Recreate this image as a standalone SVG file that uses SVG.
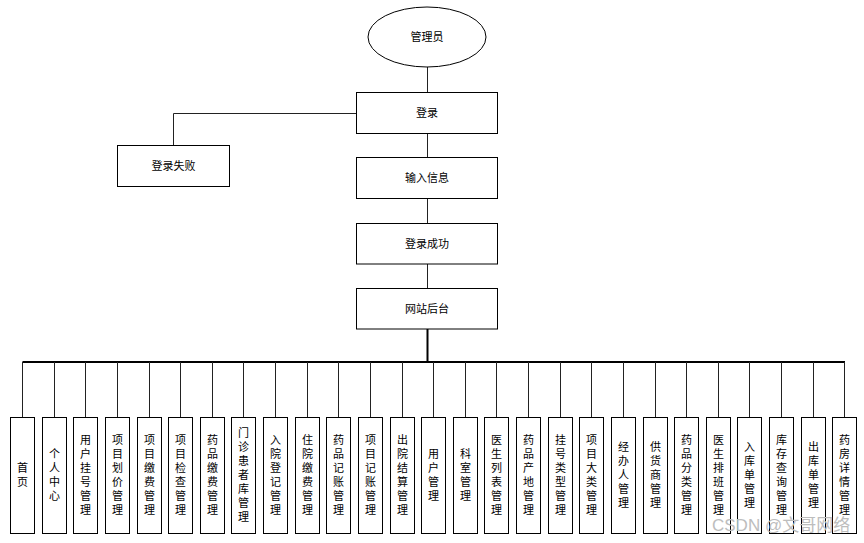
<svg xmlns="http://www.w3.org/2000/svg" width="864" height="543" viewBox="0 0 864 543">
<style>
.n{fill:#fff;stroke:#000;stroke-width:1}
.t{font-family:"Liberation Sans","Noto Sans CJK SC",sans-serif;font-size:11px;fill:#000;text-anchor:middle;dominant-baseline:central}
.c{stroke:#222;stroke-width:1;fill:none}
.b{stroke:#000;stroke-width:2;fill:none}
.w{font-family:"Liberation Sans","Noto Sans CJK SC",sans-serif;font-size:17px;fill:#bdbdbd}
</style>
<rect width="864" height="543" fill="#fff"/>
<g id="connectors">
<path class="c" d="M427.5 67V92.5M356 113.5H173.5V145.5M427.5 133.5V157.5M427.5 198.5V223.5M427.5 264V288.5"/>
<path class="b" d="M427.5 329V362M22.5 362H845"/>
<path class="c" d="M22.5 362V417M54.5 362V417M85.5 362V417M117.5 362V417M149.5 362V417M180.5 362V417M212.5 362V417M243.5 362V417M275.5 362V417M307.5 362V417M338.5 362V417M370.5 362V417M402.5 362V417M433.5 362V417M465.5 362V417M496.5 362V417M528.5 362V417M560.5 362V417M591.5 362V417M623.5 362V417M655.5 362V417M686.5 362V417M718.5 362V417M749.5 362V417M781.5 362V417M813.5 362V417M844.5 362V417"/>
</g>
<g id="admin"><ellipse class="n" cx="427" cy="37" rx="59" ry="30"/><text class="t" x="427" y="37">管理员</text></g>
<g id="login"><rect class="n" x="356.5" y="92.5" width="141" height="41"/><text class="t" x="427" y="113">登录</text></g>
<g id="loginFail"><rect class="n" x="117.5" y="145.5" width="112" height="41"/><text class="t" x="173.5" y="166">登录失败</text></g>
<g id="input"><rect class="n" x="356.5" y="157.5" width="141" height="41"/><text class="t" x="427" y="178">输入信息</text></g>
<g id="loginOk"><rect class="n" x="356.5" y="223.5" width="141" height="40.5"/><text class="t" x="427" y="243.5">登录成功</text></g>
<g id="backend"><rect class="n" x="356.5" y="288.5" width="141" height="40.5"/><text class="t" x="427" y="308.5">网站后台</text></g>
<g id="m1"><rect class="n" x="10.5" y="417.5" width="24" height="116"/><text class="t" x="22.5" y="475"><tspan x="22.5" dy="-7">首</tspan><tspan x="22.5" dy="14">页</tspan></text></g>
<g id="m2"><rect class="n" x="42.5" y="417.5" width="24" height="116"/><text class="t" x="54.5" y="475"><tspan x="54.5" dy="-21">个</tspan><tspan x="54.5" dy="14">人</tspan><tspan x="54.5" dy="14">中</tspan><tspan x="54.5" dy="14">心</tspan></text></g>
<g id="m3"><rect class="n" x="73.5" y="417.5" width="24" height="116"/><text class="t" x="85.5" y="475"><tspan x="85.5" dy="-35">用</tspan><tspan x="85.5" dy="14">户</tspan><tspan x="85.5" dy="14">挂</tspan><tspan x="85.5" dy="14">号</tspan><tspan x="85.5" dy="14">管</tspan><tspan x="85.5" dy="14">理</tspan></text></g>
<g id="m4"><rect class="n" x="105.5" y="417.5" width="24" height="116"/><text class="t" x="117.5" y="475"><tspan x="117.5" dy="-35">项</tspan><tspan x="117.5" dy="14">目</tspan><tspan x="117.5" dy="14">划</tspan><tspan x="117.5" dy="14">价</tspan><tspan x="117.5" dy="14">管</tspan><tspan x="117.5" dy="14">理</tspan></text></g>
<g id="m5"><rect class="n" x="137.5" y="417.5" width="24" height="116"/><text class="t" x="149.5" y="475"><tspan x="149.5" dy="-35">项</tspan><tspan x="149.5" dy="14">目</tspan><tspan x="149.5" dy="14">缴</tspan><tspan x="149.5" dy="14">费</tspan><tspan x="149.5" dy="14">管</tspan><tspan x="149.5" dy="14">理</tspan></text></g>
<g id="m6"><rect class="n" x="168.5" y="417.5" width="24" height="116"/><text class="t" x="180.5" y="475"><tspan x="180.5" dy="-35">项</tspan><tspan x="180.5" dy="14">目</tspan><tspan x="180.5" dy="14">检</tspan><tspan x="180.5" dy="14">查</tspan><tspan x="180.5" dy="14">管</tspan><tspan x="180.5" dy="14">理</tspan></text></g>
<g id="m7"><rect class="n" x="200.5" y="417.5" width="24" height="116"/><text class="t" x="212.5" y="475"><tspan x="212.5" dy="-35">药</tspan><tspan x="212.5" dy="14">品</tspan><tspan x="212.5" dy="14">缴</tspan><tspan x="212.5" dy="14">费</tspan><tspan x="212.5" dy="14">管</tspan><tspan x="212.5" dy="14">理</tspan></text></g>
<g id="m8"><rect class="n" x="231.5" y="417.5" width="24" height="116"/><text class="t" x="243.5" y="475"><tspan x="243.5" dy="-42">门</tspan><tspan x="243.5" dy="14">诊</tspan><tspan x="243.5" dy="14">患</tspan><tspan x="243.5" dy="14">者</tspan><tspan x="243.5" dy="14">库</tspan><tspan x="243.5" dy="14">管</tspan><tspan x="243.5" dy="14">理</tspan></text></g>
<g id="m9"><rect class="n" x="263.5" y="417.5" width="24" height="116"/><text class="t" x="275.5" y="475"><tspan x="275.5" dy="-35">入</tspan><tspan x="275.5" dy="14">院</tspan><tspan x="275.5" dy="14">登</tspan><tspan x="275.5" dy="14">记</tspan><tspan x="275.5" dy="14">管</tspan><tspan x="275.5" dy="14">理</tspan></text></g>
<g id="m10"><rect class="n" x="295.5" y="417.5" width="24" height="116"/><text class="t" x="307.5" y="475"><tspan x="307.5" dy="-35">住</tspan><tspan x="307.5" dy="14">院</tspan><tspan x="307.5" dy="14">缴</tspan><tspan x="307.5" dy="14">费</tspan><tspan x="307.5" dy="14">管</tspan><tspan x="307.5" dy="14">理</tspan></text></g>
<g id="m11"><rect class="n" x="326.5" y="417.5" width="24" height="116"/><text class="t" x="338.5" y="475"><tspan x="338.5" dy="-35">药</tspan><tspan x="338.5" dy="14">品</tspan><tspan x="338.5" dy="14">记</tspan><tspan x="338.5" dy="14">账</tspan><tspan x="338.5" dy="14">管</tspan><tspan x="338.5" dy="14">理</tspan></text></g>
<g id="m12"><rect class="n" x="358.5" y="417.5" width="24" height="116"/><text class="t" x="370.5" y="475"><tspan x="370.5" dy="-35">项</tspan><tspan x="370.5" dy="14">目</tspan><tspan x="370.5" dy="14">记</tspan><tspan x="370.5" dy="14">账</tspan><tspan x="370.5" dy="14">管</tspan><tspan x="370.5" dy="14">理</tspan></text></g>
<g id="m13"><rect class="n" x="390.5" y="417.5" width="24" height="116"/><text class="t" x="402.5" y="475"><tspan x="402.5" dy="-35">出</tspan><tspan x="402.5" dy="14">院</tspan><tspan x="402.5" dy="14">结</tspan><tspan x="402.5" dy="14">算</tspan><tspan x="402.5" dy="14">管</tspan><tspan x="402.5" dy="14">理</tspan></text></g>
<g id="m14"><rect class="n" x="421.5" y="417.5" width="24" height="116"/><text class="t" x="433.5" y="475"><tspan x="433.5" dy="-21">用</tspan><tspan x="433.5" dy="14">户</tspan><tspan x="433.5" dy="14">管</tspan><tspan x="433.5" dy="14">理</tspan></text></g>
<g id="m15"><rect class="n" x="453.5" y="417.5" width="24" height="116"/><text class="t" x="465.5" y="475"><tspan x="465.5" dy="-21">科</tspan><tspan x="465.5" dy="14">室</tspan><tspan x="465.5" dy="14">管</tspan><tspan x="465.5" dy="14">理</tspan></text></g>
<g id="m16"><rect class="n" x="484.5" y="417.5" width="24" height="116"/><text class="t" x="496.5" y="475"><tspan x="496.5" dy="-35">医</tspan><tspan x="496.5" dy="14">生</tspan><tspan x="496.5" dy="14">列</tspan><tspan x="496.5" dy="14">表</tspan><tspan x="496.5" dy="14">管</tspan><tspan x="496.5" dy="14">理</tspan></text></g>
<g id="m17"><rect class="n" x="516.5" y="417.5" width="24" height="116"/><text class="t" x="528.5" y="475"><tspan x="528.5" dy="-35">药</tspan><tspan x="528.5" dy="14">品</tspan><tspan x="528.5" dy="14">产</tspan><tspan x="528.5" dy="14">地</tspan><tspan x="528.5" dy="14">管</tspan><tspan x="528.5" dy="14">理</tspan></text></g>
<g id="m18"><rect class="n" x="548.5" y="417.5" width="24" height="116"/><text class="t" x="560.5" y="475"><tspan x="560.5" dy="-35">挂</tspan><tspan x="560.5" dy="14">号</tspan><tspan x="560.5" dy="14">类</tspan><tspan x="560.5" dy="14">型</tspan><tspan x="560.5" dy="14">管</tspan><tspan x="560.5" dy="14">理</tspan></text></g>
<g id="m19"><rect class="n" x="579.5" y="417.5" width="24" height="116"/><text class="t" x="591.5" y="475"><tspan x="591.5" dy="-35">项</tspan><tspan x="591.5" dy="14">目</tspan><tspan x="591.5" dy="14">大</tspan><tspan x="591.5" dy="14">类</tspan><tspan x="591.5" dy="14">管</tspan><tspan x="591.5" dy="14">理</tspan></text></g>
<g id="m20"><rect class="n" x="611.5" y="417.5" width="24" height="116"/><text class="t" x="623.5" y="475"><tspan x="623.5" dy="-28">经</tspan><tspan x="623.5" dy="14">办</tspan><tspan x="623.5" dy="14">人</tspan><tspan x="623.5" dy="14">管</tspan><tspan x="623.5" dy="14">理</tspan></text></g>
<g id="m21"><rect class="n" x="643.5" y="417.5" width="24" height="116"/><text class="t" x="655.5" y="475"><tspan x="655.5" dy="-28">供</tspan><tspan x="655.5" dy="14">货</tspan><tspan x="655.5" dy="14">商</tspan><tspan x="655.5" dy="14">管</tspan><tspan x="655.5" dy="14">理</tspan></text></g>
<g id="m22"><rect class="n" x="674.5" y="417.5" width="24" height="116"/><text class="t" x="686.5" y="475"><tspan x="686.5" dy="-35">药</tspan><tspan x="686.5" dy="14">品</tspan><tspan x="686.5" dy="14">分</tspan><tspan x="686.5" dy="14">类</tspan><tspan x="686.5" dy="14">管</tspan><tspan x="686.5" dy="14">理</tspan></text></g>
<g id="m23"><rect class="n" x="706.5" y="417.5" width="24" height="116"/><text class="t" x="718.5" y="475"><tspan x="718.5" dy="-35">医</tspan><tspan x="718.5" dy="14">生</tspan><tspan x="718.5" dy="14">排</tspan><tspan x="718.5" dy="14">班</tspan><tspan x="718.5" dy="14">管</tspan><tspan x="718.5" dy="14">理</tspan></text></g>
<g id="m24"><rect class="n" x="737.5" y="417.5" width="24" height="116"/><text class="t" x="749.5" y="475"><tspan x="749.5" dy="-28">入</tspan><tspan x="749.5" dy="14">库</tspan><tspan x="749.5" dy="14">单</tspan><tspan x="749.5" dy="14">管</tspan><tspan x="749.5" dy="14">理</tspan></text></g>
<g id="m25"><rect class="n" x="769.5" y="417.5" width="24" height="116"/><text class="t" x="781.5" y="475"><tspan x="781.5" dy="-35">库</tspan><tspan x="781.5" dy="14">存</tspan><tspan x="781.5" dy="14">查</tspan><tspan x="781.5" dy="14">询</tspan><tspan x="781.5" dy="14">管</tspan><tspan x="781.5" dy="14">理</tspan></text></g>
<g id="m26"><rect class="n" x="801.5" y="417.5" width="24" height="116"/><text class="t" x="813.5" y="475"><tspan x="813.5" dy="-28">出</tspan><tspan x="813.5" dy="14">库</tspan><tspan x="813.5" dy="14">单</tspan><tspan x="813.5" dy="14">管</tspan><tspan x="813.5" dy="14">理</tspan></text></g>
<g id="m27"><rect class="n" x="832.5" y="417.5" width="24" height="116"/><text class="t" x="844.5" y="475"><tspan x="844.5" dy="-35">药</tspan><tspan x="844.5" dy="14">房</tspan><tspan x="844.5" dy="14">详</tspan><tspan x="844.5" dy="14">情</tspan><tspan x="844.5" dy="14">管</tspan><tspan x="844.5" dy="14">理</tspan></text></g>
<text class="w" x="712" y="531">CSDN @文哥网络</text>
</svg>
